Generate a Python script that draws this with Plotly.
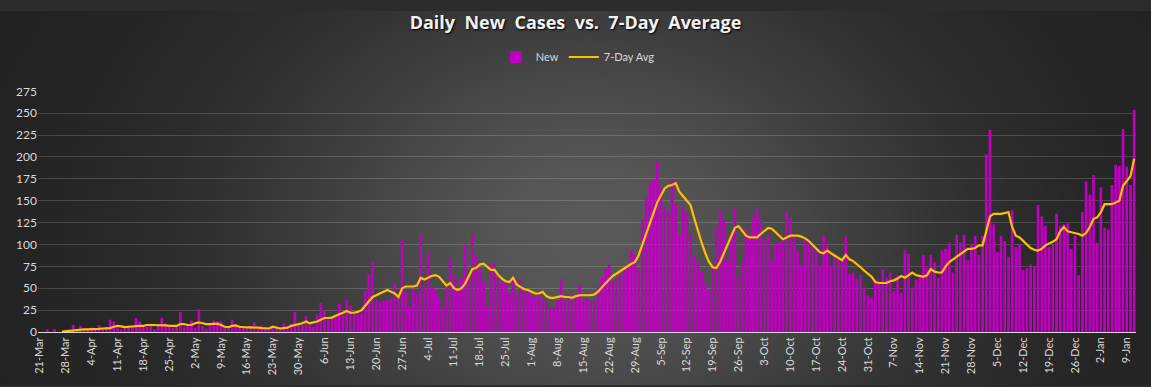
import base64
import struct
import zlib

import numpy as np
import pandas as pd
import plotly.graph_objects as go

# ---------------- data ----------------
start_date = "2020-03-21"

new_cases = [
    0, 0, 3, 0, 3, 0, 0,
    1, 0, 8, 2, 7, 3, 4,
    5, 3, 8, 4, 6, 14, 12,
    5, 3, 6, 7, 7, 16, 12,
    8, 6, 8, 3, 9, 16, 10,
    6, 5, 8, 23, 6, 8, 13,
    5, 26, 7, 4, 8, 13, 12,
    12, 5, 6, 14, 8, 6, 4,
    5, 6, 11, 4, 7, 5, 4,
    7, 5, 4, 10, 3, 9, 23,
    10, 8, 18, 8, 6, 20, 33,
    25, 14, 15, 18, 32, 20, 37,
    30, 22, 20, 22, 47, 66, 81,
    37, 34, 36, 37, 38, 56, 43,
    106, 47, 29, 49, 43, 113, 51,
    91, 51, 49, 40, 29, 56, 86,
    65, 47, 62, 100, 65, 113, 88,
    71, 58, 29, 78, 78, 65, 58,
    56, 43, 62, 43, 60, 51, 47,
    42, 40, 43, 40, 36, 27, 27,
    36, 60, 36, 43, 36, 43, 53,
    36, 40, 36, 38, 51, 62, 71,
    77, 58, 62, 65, 71, 77, 93,
    88, 73, 128, 154, 170, 174, 195,
    165, 143, 139, 174, 147, 111, 143,
    135, 113, 88, 80, 69, 55, 49,
    77, 121, 139, 128, 80, 113, 143,
    62, 80, 117, 110, 132, 141, 129,
    106, 111, 80, 100, 104, 104, 138,
    131, 108, 93, 77, 106, 102, 98,
    97, 76, 110, 98, 76, 88, 83,
    80, 109, 66, 68, 60, 65, 51,
    42, 39, 60, 55, 72, 62, 68,
    47, 65, 45, 93, 89, 51, 60,
    62, 88, 73, 88, 80, 62, 93,
    95, 102, 68, 111, 102, 111, 82,
    99, 110, 88, 110, 203, 231, 123,
    91, 110, 104, 86, 139, 97, 100,
    71, 73, 77, 75, 145, 132, 121,
    97, 100, 135, 121, 123, 124, 95,
    110, 65, 137, 172, 157, 179, 102,
    165, 119, 117, 168, 191, 190, 232,
    189, 168, 254,
]

avg_7day = [
    None, None, None, None, None, None, 0.5,
    1, 1, 1.5, 2, 2.5, 3, 3,
    3, 3.5, 3.5, 4, 4, 4.5, 6,
    7, 6.5, 5.5, 6, 6.5, 7, 7,
    7, 8, 8, 8, 8, 8, 7.5,
    7, 7, 7, 9, 9, 8, 8,
    10, 11, 10, 9, 9, 9, 9.5,
    8, 6, 5.5, 7, 7.5, 6, 5.5,
    5.5, 5, 5.5, 5, 4.5, 4.5, 4,
    6, 5, 4, 4.5, 5, 7, 8,
    9.5, 10, 12, 10, 11, 12, 14,
    16, 16, 16.5, 18.5, 20, 22, 24,
    22, 22, 23, 25, 30, 36, 40,
    42, 44, 46, 48, 46, 44, 40,
    50, 52, 52, 52, 53, 62, 60,
    62, 64, 65, 63, 58, 53, 56,
    50, 48, 50, 55, 63, 72, 73,
    77, 78, 75, 71, 71, 65, 61,
    58, 57, 62, 54, 51, 49, 48,
    46, 44, 44, 46, 41, 39, 39,
    40, 41, 40, 40, 39, 41, 42,
    42, 42, 42, 43, 46, 51, 56,
    60, 64, 67, 70, 73, 75, 78,
    80, 88, 100, 112, 125, 138, 148,
    156, 164, 167, 168, 170, 160, 155,
    150, 145, 130, 115, 102, 90, 80,
    74, 73, 80, 90, 101, 110, 119,
    121, 116, 110, 108, 108, 108, 112,
    116, 119, 118, 114, 110, 106, 108,
    110, 110, 110, 109, 107, 104, 100,
    96, 91, 90, 93, 90, 87, 85,
    82, 88, 83, 81, 78, 74, 70,
    67, 63, 57, 56, 56, 56, 58,
    59, 61, 64, 62, 65, 68, 65,
    64, 63, 65, 72, 69, 68, 68,
    75, 80, 83, 86, 90, 93, 95,
    95, 96, 99, 99, 115, 132, 135,
    135, 135, 136, 137, 120, 110, 108,
    104, 100, 96, 94, 93, 95, 99,
    101, 103, 106, 115, 120, 115, 114,
    113, 112, 110, 113, 120, 129, 131,
    137, 146, 146, 146, 148, 150, 167,
    172, 178, 198,
]

tick_labels = [
    "21-Mar", "28-Mar", "4-Apr", "11-Apr", "18-Apr", "25-Apr", "2-May",
    "9-May", "16-May", "23-May", "30-May", "6-Jun", "13-Jun", "20-Jun",
    "27-Jun", "4-Jul", "11-Jul", "18-Jul", "25-Jul", "1-Aug", "8-Aug",
    "15-Aug", "22-Aug", "29-Aug", "5-Sep", "12-Sep", "19-Sep", "26-Sep",
    "3-Oct", "10-Oct", "17-Oct", "24-Oct", "31-Oct", "7-Nov", "14-Nov",
    "21-Nov", "28-Nov", "5-Dec", "12-Dec", "19-Dec", "26-Dec", "2-Jan",
    "9-Jan",
]

y_ticks = [0, 25, 50, 75, 100, 125, 150, 175, 200, 225, 250, 275]

title_text = "Daily&nbsp; New&nbsp; Cases&nbsp; vs.&nbsp; 7-Day&nbsp; Average"

# ---------------- figure ----------------
W, H = 1151, 387
ML, MR, MT, MB = 38, 15, 83, 55

dates = pd.date_range(start_date, periods=len(new_cases), freq="D")


def gradient_png(w, h):
    yy, xx = np.mgrid[0:h, 0:w]
    fx = xx / (w - 1) * W
    fy = yy / (h - 1) * H
    v = 33 + 56 * np.exp(-((fx - 590) / 340) ** 2 - ((fy - 230) / 270) ** 2)
    arr = np.clip(v, 0, 255).astype(np.uint8)
    raw = b"".join(b"\x00" + arr[r].tobytes() for r in range(h))

    def chunk(tag, data):
        return (struct.pack(">I", len(data)) + tag + data
                + struct.pack(">I", zlib.crc32(tag + data) & 0xFFFFFFFF))

    png = (b"\x89PNG\r\n\x1a\n"
           + chunk(b"IHDR", struct.pack(">IIBBBBB", w, h, 8, 0, 0, 0, 0))
           + chunk(b"IDAT", zlib.compress(raw, 9))
           + chunk(b"IEND", b""))
    return "data:image/png;base64," + base64.b64encode(png).decode()


pw = W - ML - MR
ph = H - MT - MB

fig = go.Figure()
fig.add_trace(go.Bar(
    x=dates, y=new_cases, name="New",
    marker=dict(color="#c000c0", line=dict(width=0)),
))
fig.add_trace(go.Scatter(
    x=dates, y=avg_7day, name="7-Day Avg", mode="lines",
    line=dict(color="#ffc000", width=2.2),
))

fig.update_layout(
    width=W, height=H,
    margin=dict(l=ML, r=MR, t=MT, b=MB, pad=0),
    paper_bgcolor="#2c2c2c",
    plot_bgcolor="rgba(0,0,0,0)",
    bargap=0.28,
    font=dict(family="Lato, 'Open Sans', sans-serif", color="#d9d9d9"),
    title=dict(
        text=title_text,
        x=0.5, xref="container", xanchor="center",
        y=1 - 23 / H, yref="container", yanchor="middle",
        font=dict(family="'Open Sans', sans-serif", size=18, color="#f2f2f2",
                  weight="bold", shadow="1px 1px 2px #000000"),
    ),
    legend=dict(
        orientation="h", xref="container", yref="container",
        x=0.502, xanchor="center", y=1 - 57 / H, yanchor="middle",
        font=dict(size=11, color="#d9d9d9"),
        bgcolor="rgba(0,0,0,0)",
    ),
    images=[dict(
        source=gradient_png(576, 194),
        xref="paper", yref="paper",
        x=-ML / pw, y=1 + MT / ph, sizex=W / pw, sizey=H / ph,
        xanchor="left", yanchor="top", sizing="stretch", layer="below",
    )],
    showlegend=True,
)

fig.update_xaxes(
    type="date",
    range=[dates[0] - pd.Timedelta(hours=12), dates[-1] + pd.Timedelta(hours=12)],
    tickmode="array", tickvals=list(dates[::7]), ticktext=tick_labels,
    tickangle=-90, tickfont=dict(size=11, color="#d9d9d9"),
    showgrid=False, showline=True, linecolor="#d9d9d9", linewidth=1,
    ticks="", zeroline=False,
)
fig.update_yaxes(
    range=[0, 275], tickmode="array", tickvals=y_ticks,
    tickfont=dict(size=12, color="#d9d9d9"),
    showgrid=True, gridcolor="rgba(255,255,255,0.17)", gridwidth=1,
    zeroline=False, showline=False, ticks="",
)

fig.write_html(
    "out.html",
    config={"displayModeBar": False},
    post_script="document.body.style.margin='0';document.body.style.background='#2c2c2c';",
)
